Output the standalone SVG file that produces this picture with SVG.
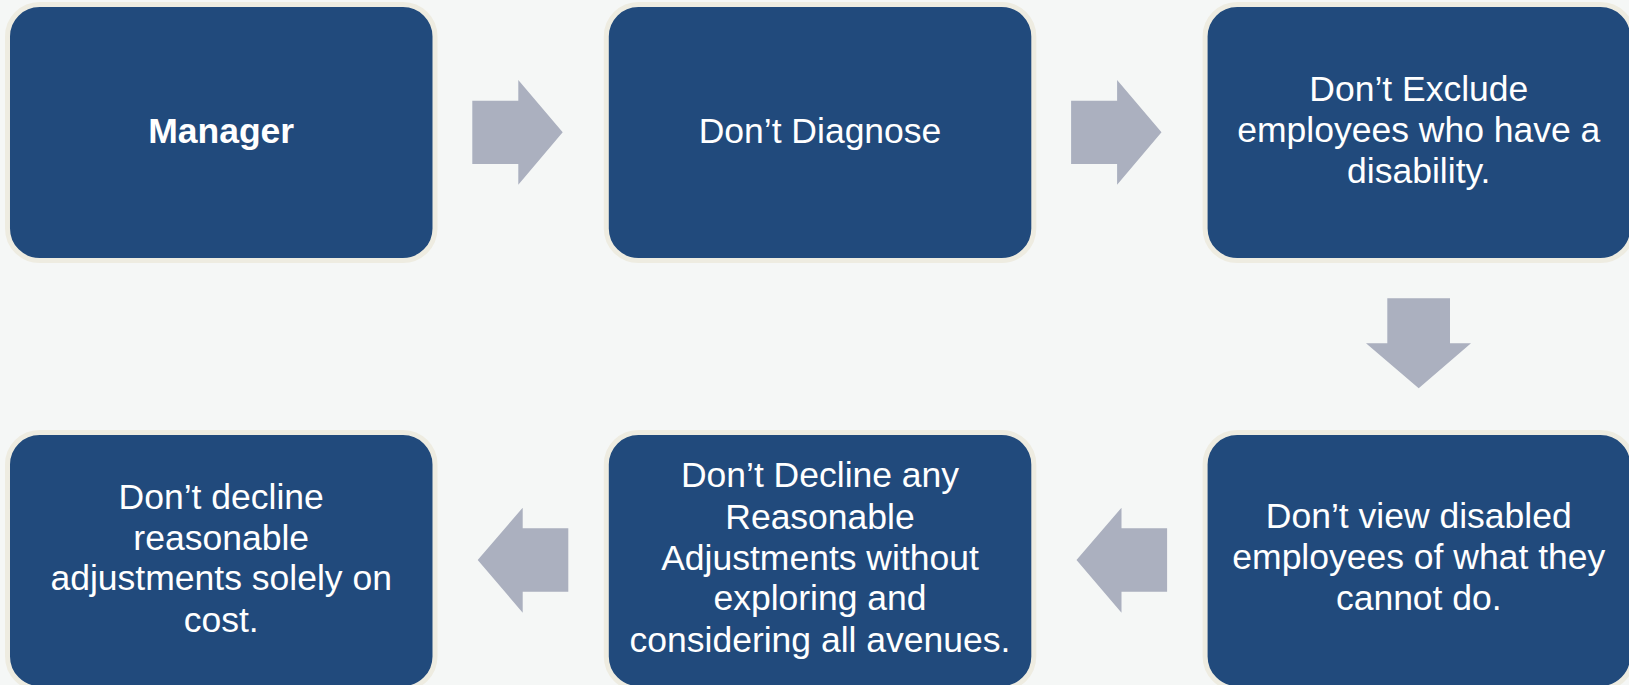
<svg xmlns="http://www.w3.org/2000/svg" width="1629" height="685" viewBox="0 0 1629 685">
<style>
.box{fill:#214a7c;stroke:#eeece1;stroke-width:5}
.t{font-family:"Liberation Sans",Arial,sans-serif;font-size:35.5px;fill:#ffffff;text-anchor:middle}
.b{font-weight:700}
.arr{fill:#abb0bf}
</style>
<rect x="0" y="0" width="1629" height="685" fill="#f5f7f6"/>
<g id="connectors">
<polygon class="arr" points="472.3,100.7 518.3,100.7 518.3,80 562.7,132.3 518.3,184.7 518.3,164 472.3,164"/>
<polygon class="arr" points="1071.1,100.7 1117.1,100.7 1117.1,80 1161.5,132.3 1117.1,184.7 1117.1,164 1071.1,164"/>
<polygon class="arr" points="1387.3,298.3 1450,298.3 1450,343.3 1471,343.3 1418.7,388.3 1366,343.3 1387.3,343.3"/>
<polygon class="arr" points="1076.5,560 1121.5,507.7 1121.5,528.3 1167.1,528.3 1167.1,591.7 1121.5,591.7 1121.5,612.7"/>
<polygon class="arr" points="477.7,560 522.7,507.7 522.7,528.3 568.3,528.3 568.3,591.7 522.7,591.7 522.7,612.7"/>
</g>
<g id="manager">
<rect class="box" x="7.5" y="4.5" width="427.5" height="256" rx="32"/>
<text class="t b" x="221.2" y="143.3">Manager</text>
</g>
<g id="dont-diagnose">
<rect class="box" x="606.3" y="4.5" width="427.5" height="256" rx="32"/>
<text class="t" x="820" y="143.3">Don’t Diagnose</text>
</g>
<g id="dont-exclude">
<rect class="box" x="1205.1" y="4.5" width="427.5" height="256" rx="32"/>
<text class="t" x="1418.8" y="101">Don’t Exclude</text>
<text class="t" x="1418.8" y="142">employees who have a</text>
<text class="t" x="1418.8" y="183.3">disability.</text>
</g>
<g id="dont-view">
<rect class="box" x="1205.1" y="432.5" width="427.5" height="256" rx="32"/>
<text class="t" x="1418.8" y="528.3">Don’t view disabled</text>
<text class="t" x="1418.8" y="569">employees of what they</text>
<text class="t" x="1418.8" y="610">cannot do.</text>
</g>
<g id="dont-decline-any">
<rect class="box" x="606.3" y="432.5" width="427.5" height="256" rx="32"/>
<text class="t" x="820" y="487.3">Don’t Decline any</text>
<text class="t" x="820" y="529">Reasonable</text>
<text class="t" x="820" y="569.5">Adjustments without</text>
<text class="t" x="820" y="610">exploring and</text>
<text class="t" x="820" y="651.5">considering all avenues.</text>
</g>
<g id="dont-decline-cost">
<rect class="box" x="7.5" y="432.5" width="427.5" height="256" rx="32"/>
<text class="t" x="221.2" y="509">Don’t decline</text>
<text class="t" x="221.2" y="549.5">reasonable</text>
<text class="t" x="221.2" y="590">adjustments solely on</text>
<text class="t" x="221.2" y="631.5">cost.</text>
</g>
</svg>
